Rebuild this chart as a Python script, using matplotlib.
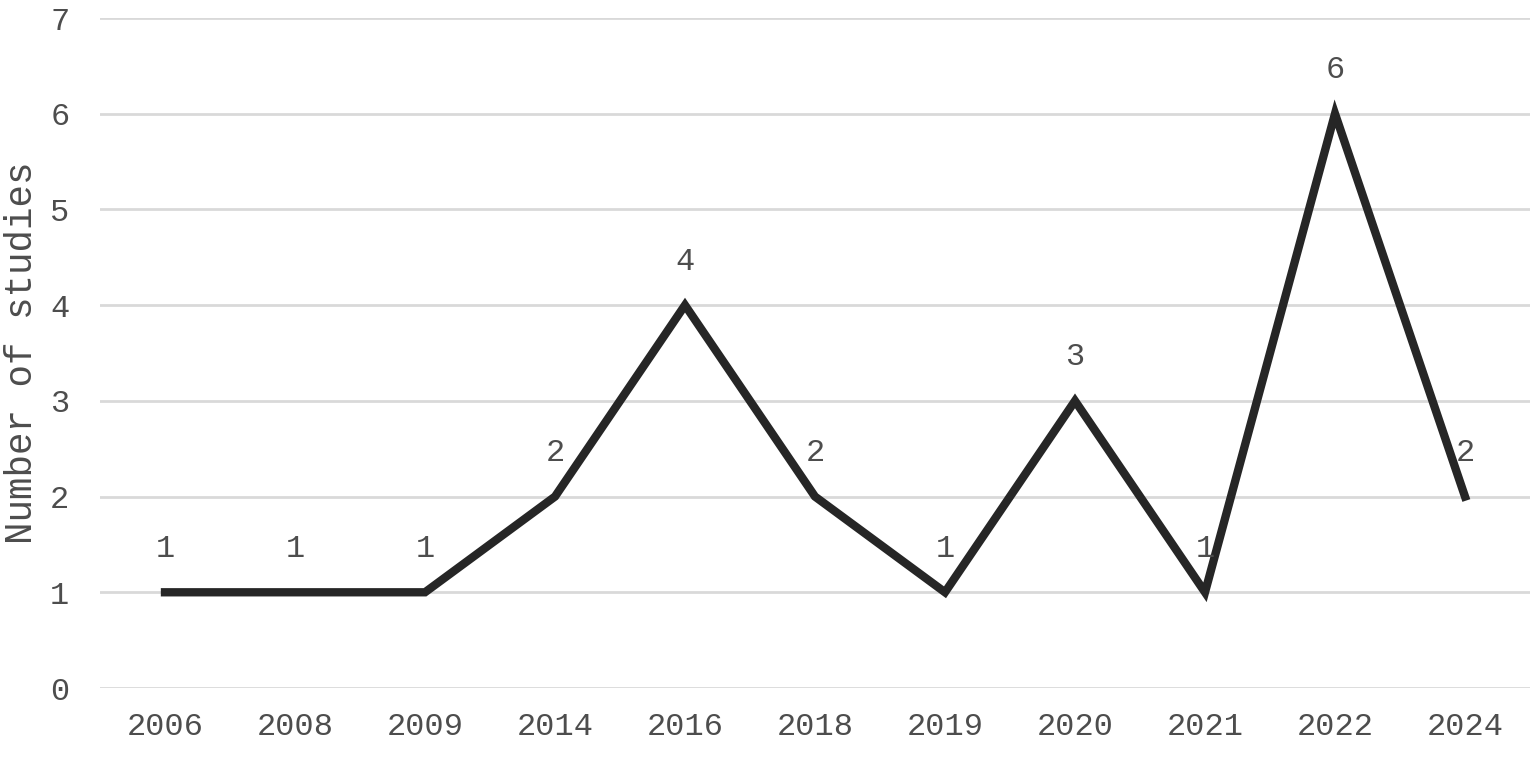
import matplotlib
matplotlib.use("Agg")
import matplotlib.pyplot as plt

years = ["2006", "2008", "2009", "2014", "2016", "2018", "2019", "2020", "2021", "2022", "2024"]
studies = [1, 1, 1, 2, 4, 2, 1, 3, 1, 6, 2]
yticks = [0, 1, 2, 3, 4, 5, 6, 7]

plt.rcParams['font.family'] = ['Liberation Mono', 'DejaVu Sans Mono']
txt = '#4d4d4d'

fig = plt.figure(figsize=(15.33, 7.58), dpi=100)
ax = fig.add_axes([100/1533, 70/758, 1430/1533, 670/758])

x = list(range(len(years)))
ax.plot(x, studies, color='#262626', linewidth=6, solid_joinstyle='miter', zorder=3)
for xi, v in zip(x, studies):
    ax.annotate(str(v), (xi, v), xytext=(0, 20.5), textcoords='offset points',
                ha='center', va='bottom', fontsize=23, color=txt)

ax.set_xlim(-0.5, len(years) - 0.5)
ax.set_ylim(0, 7)
ax.set_xticks(x)
ax.set_xticklabels(years)
ax.set_yticks(yticks)
ax.grid(axis='y', color='#d9d9d9', linewidth=2)
ax.set_axisbelow(True)
for s in ax.spines.values():
    s.set_visible(False)
ax.tick_params(axis='both', length=0, labelsize=23, labelcolor=txt)
ax.tick_params(axis='x', pad=17)
ax.tick_params(axis='y', pad=22)
ax.set_ylabel("Number of studies", fontsize=27, color=txt, labelpad=7)

fig.savefig("out.png", dpi=100)
